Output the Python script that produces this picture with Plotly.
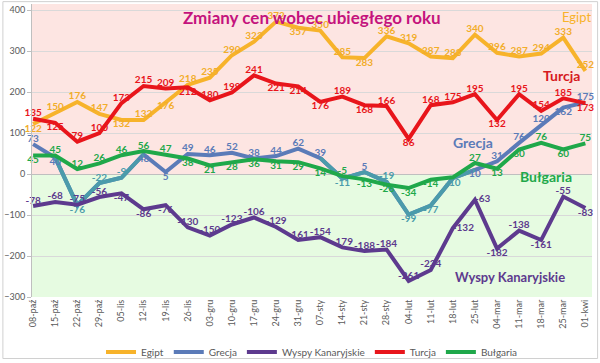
import plotly.graph_objects as go

dates = ["08-paź", "15-paź", "22-paź", "29-paź", "05-lis", "12-lis", "19-lis", "26-lis",
         "03-gru", "10-gru", "17-gru", "24-gru", "31-gru", "07-sty", "14-sty", "21-sty",
         "28-sty", "04-lut", "11-lut", "18-lut", "25-lut", "04-mar", "11-mar", "18-mar",
         "25-mar", "01-kwi"]

egipt = [122, 150, 176, 147, 132, 132, 176, 218, 235, 290, 323, 372, 357, 350, 285, 283,
         336, 319, 287, 283, 340, 296, 287, 294, 333, 252]
turcja = [135, 125, 79, 100, 173, 215, 209, 212, 180, 199, 241, 221, 214, 176, 189, 168,
          166, 86, 168, 175, 195, 132, 195, 154, 185, 173]
grecja = [73, 40, -76, -22, -9, 48, 5, 49, 46, 52, 38, 44, 62, 39, -11, 5,
          -19, -99, -77, -10, 10, 31, 76, 120, 162, 175]
bulgaria = [45, 45, 12, 26, 46, 56, 47, 38, 21, 28, 36, 31, 29, 14, -5, -13,
            -26, -34, -14, -8, 27, 13, 60, 76, 60, 75]
wyspy = [-78, -68, -75, -56, -47, -86, -76, -130, -150, -123, -106, -129, -161, -154, -179, -188,
         -184, -261, -234, -132, -63, -182, -138, -161, -55, -83]

T, B, R = "top center", "bottom center", "middle right"
pos_egipt = [B, T, T, T, B, T, B, T, T, T, T, T, B, T, T, B, T, T, T, T, T, T, T, T, T, T]
pos_turcja = [T, B, T, T, T, T, T, B, T, T, T, B, B, B, T, B, T, B, T, T, T, B, T, T, T, B]
pos_grecja = [T, B, B, T, T, B, B, T, T, T, T, T, T, T, B, T, T, B, B, B, B, T, T, T, B, T]
pos_bulg = [B, T, T, T, T, T, T, B, B, B, B, B, B, B, T, B, B, B, B, B, T, B, B, T, B, T]
pos_wyspy = [T, T, T, T, B, B, B, T, T, T, T, T, T, T, T, T, T, T, T, R, R, B, T, B, T, B]

C_EG = "#f7b32b"
C_TU = "#e8151b"
C_GR = "#5b7bb8"
C_GR_NEG = "#4b9bab"
C_BU = "#1fa84a"
C_WY = "#5d3a8e"

fig = go.Figure()

LW = 4
LBL = dict(family="Lato, Open Sans, sans-serif", size=10)

def add(name, y, color, pos, tcolor=None, show_text=None):
    tc = tcolor if tcolor is not None else color
    txt = [str(v) for v in y]
    if show_text is not None:
        txt = [t if s else "" for t, s in zip(txt, show_text)]
    fig.add_trace(go.Scatter(
        x=dates, y=y, name=name, mode="lines+text",
        line=dict(color=color, width=LW),
        text=txt, textposition=pos,
        textfont=dict(LBL, color=tc, weight="bold"),
        cliponaxis=False,
    ))

add("Egipt", egipt, C_EG, pos_egipt, tcolor="#f2ad2a")

# Grecja: main line plus teal overlay on negative stretches
fig.add_trace(go.Scatter(
    x=dates, y=grecja, name="Grecja", mode="lines",
    line=dict(color=C_GR, width=LW),
))
neg_y = []
for i, v in enumerate(grecja):
    prev_neg = i > 0 and grecja[i - 1] < 0
    next_neg = i < len(grecja) - 1 and grecja[i + 1] < 0
    neg_y.append(v if (v < 0 or prev_neg or next_neg) else None)
fig.add_trace(go.Scatter(
    x=dates, y=neg_y, mode="lines", showlegend=False, hoverinfo="skip",
    line=dict(color=C_GR_NEG, width=LW), connectgaps=False,
))
fig.add_trace(go.Scatter(
    x=dates, y=grecja, mode="text", showlegend=False,
    text=[str(v) for v in grecja], textposition=pos_grecja,
    textfont=dict(LBL, color=[C_GR_NEG if v < 0 else C_GR for v in grecja], weight="bold"),
    cliponaxis=False,
))

add("Wyspy Kanaryjskie", wyspy, C_WY, pos_wyspy)
add("Turcja", turcja, C_TU, pos_turcja)
add("Bułgaria", bulgaria, C_BU, pos_bulg,
    show_text=[True] * 19 + [False] + [True] * 6)

# background bands
fig.add_shape(type="rect", xref="paper", yref="y", x0=0, x1=1, y0=0, y1=415,
              fillcolor="#fde5e2", line_width=0, layer="below")
fig.add_shape(type="rect", xref="paper", yref="y", x0=0, x1=1, y0=-300, y1=0,
              fillcolor="#e6fbe1", line_width=0, layer="below")
# outer chart border
fig.add_shape(type="rect", xref="paper", yref="paper",
              x0=-0.052, x1=1.01, y0=-0.21, y1=1.008,
              line=dict(color="#d0d0d0", width=1), fillcolor="rgba(0,0,0,0)")

ann_font = "Lato, Open Sans, sans-serif"
fig.add_annotation(text="<b>Zmiany cen wobec ubiegłego roku</b>", x=0.5, y=383,
                   xref="paper", yref="y", showarrow=False,
                   font=dict(family=ann_font, size=17, color="#c4137d"))
for txt, xi, yi, col, sz in [("Egipt", 24.6, 383, C_EG, 13),
                             ("<b>Turcja</b>", 23.9, 240, "#d61a1f", 14),
                             ("<b>Grecja</b>", 19.9, 78, C_GR, 14),
                             ("<b>Bułgaria</b>", 23.2, -5, C_BU, 14),
                             ("<b>Wyspy Kanaryjskie</b>", 21.6, -251, C_WY, 13)]:
    fig.add_annotation(text=txt, x=xi, y=yi, xref="x", yref="y", showarrow=False,
                       font=dict(family=ann_font, size=sz, color=col))

fig.update_layout(
    width=600, height=363,
    margin=dict(l=32, r=8, t=4, b=66, autoexpand=False),
    paper_bgcolor="white", plot_bgcolor="white",
    font=dict(family=ann_font, size=9, color="#595959"),
    showlegend=True,
    legend=dict(orientation="h", x=0.5, xanchor="center", y=-0.188, yanchor="middle",
                font=dict(size=10, color="#595959"), itemwidth=30,
                bgcolor="rgba(0,0,0,0)"),
    xaxis=dict(type="category", range=[-0.05, 25.3], tickangle=-90, automargin=False,
               showgrid=False, showline=False, ticks="", tickfont=dict(size=9)),
    yaxis=dict(range=[-300, 415], tickvals=[-300, -200, -100, 0, 100, 200, 300, 400],
               automargin=False,
               showgrid=True, gridcolor="#d9d9d9", gridwidth=1,
               zeroline=True, zerolinecolor="#bfbfbf", zerolinewidth=1,
               showline=True, linecolor="#bfbfbf", ticks="outside", ticklen=4,
               tickcolor="#bfbfbf", tickfont=dict(size=9)),
)

fig.write_html("out.html", config={"displayModeBar": False},
               post_script="document.body.style.margin='0';document.body.style.padding='0';")
